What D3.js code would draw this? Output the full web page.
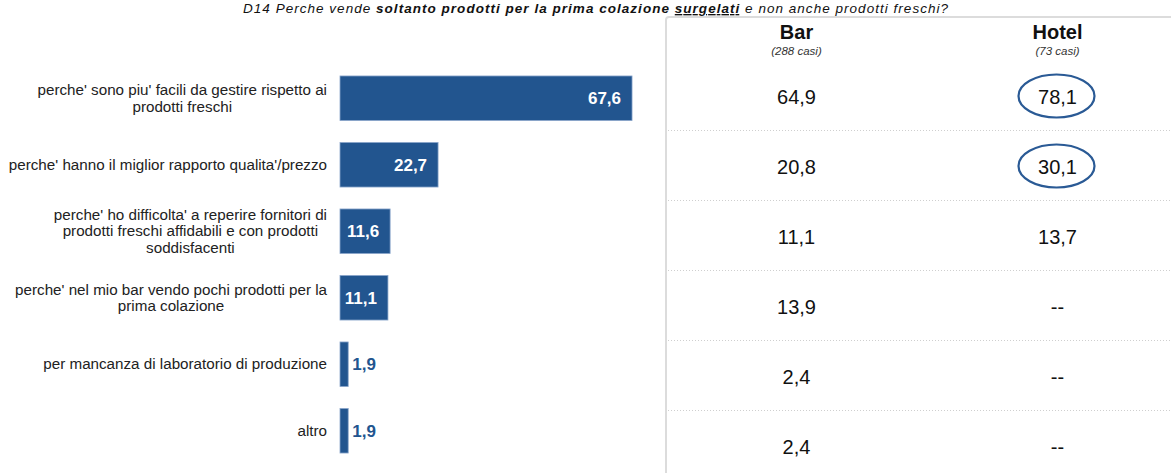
<!DOCTYPE html>
<html>
<head>
<meta charset="utf-8">
<script src="https://cdn.jsdelivr.net/npm/d3@7"></script>
<style>
  html, body { margin: 0; padding: 0; background: #fff; }
  svg { display: block; font-family: "Liberation Sans", Arial, sans-serif; }
</style>
</head>
<body>
<svg id="chart"></svg>
<script>
const categories = [
  "sono piu facili",
  "rapporto qualita prezzo",
  "difficolta fornitori",
  "pochi prodotti",
  "mancanza laboratorio",
  "altro",
];
const categoryLines = [
  ["perche' sono piu' facili da gestire rispetto ai", "prodotti freschi"],
  ["perche' hanno il miglior rapporto qualita'/prezzo"],
  ["perche' ho difficolta' a reperire fornitori di", "prodotti freschi affidabili e con prodotti", "soddisfacenti"],
  ["perche' nel mio bar vendo pochi prodotti per la", "prima colazione"],
  ["per mancanza di laboratorio di produzione"],
  ["altro"],
];
const totalValues = [67.6, 22.7, 11.6, 11.1, 1.9, 1.9];
const barValues = [64.9, 20.8, 11.1, 13.9, 2.4, 2.4];
const hotelValues = [78.1, 30.1, 13.7, null, null, null];
const hotelCircled = [true, true, false, false, false, false];
const columns = ["Bar", "Hotel"];
const columnCases = ["(288 casi)", "(73 casi)"];

const width = 1171;
const height = 473;
const blue = "#22558f";

const locale = d3.formatLocale({ decimal: ",", thousands: ".", grouping: [3], currency: ["", "€"] });
const fmt = locale.format(".1f");

const svg = d3.select("#chart").attr("width", width).attr("height", height);

// title (kept fully on the page, just above the table panel)
const title = svg.append("text")
  .attr("x", 243).attr("y", 13)
  .attr("font-size", 13.5).attr("font-style", "italic").attr("fill", "#111")
  .attr("textLength", 705).attr("lengthAdjust", "spacing");
title.append("tspan").text("D14 Perche vende ");
title.append("tspan").attr("font-weight", "bold").text("soltanto prodotti per la prima colazione ");
title.append("tspan").attr("font-weight", "bold").attr("text-decoration", "underline").text("surgelati");
title.append("tspan").text(" e non anche prodotti freschi?");

// bars
const x = d3.scaleLinear().domain([0, 100]).range([340, 772]);
const y = d3.scaleBand().domain(categories).range([65, 464]).paddingInner(0.33).paddingOuter(0.165);

const rows = categories.map((c, i) => ({
  cat: c, lines: categoryLines[i], total: totalValues[i],
  bar: barValues[i], hotel: hotelValues[i], circled: hotelCircled[i],
}));

svg.append("g").selectAll("rect")
  .data(rows)
  .join("rect")
  .attr("x", x(0))
  .attr("y", (d) => y(d.cat))
  .attr("width", (d) => x(d.total) - x(0))
  .attr("height", y.bandwidth())
  .attr("fill", blue)
  .attr("stroke", "#8aa6cb")
  .attr("stroke-width", 0.8);

svg.append("g").selectAll("text")
  .data(rows)
  .join("text")
  .attr("x", (d) => (x(d.total) - x(0) > 40 ? x(d.total) - 11 : x(d.total) + 4))
  .attr("y", (d) => y(d.cat) + y.bandwidth() / 2 + 6)
  .attr("text-anchor", (d) => (x(d.total) - x(0) > 40 ? "end" : "start"))
  .attr("font-size", 17)
  .attr("font-weight", "bold")
  .attr("fill", (d) => (x(d.total) - x(0) > 40 ? "#fff" : blue))
  .text((d) => fmt(d.total));

// category labels: block right-aligned, lines centred inside it
const lineH = 16.5;
const labels = svg.append("g").selectAll("text")
  .data(rows)
  .join("text")
  .attr("font-size", 15.2)
  .attr("fill", "#222")
  .attr("text-anchor", "middle");

labels.each(function (d) {
  const t = d3.select(this);
  const n = d.lines.length;
  const cy = y(d.cat) + y.bandwidth() / 2;
  d.lines.forEach((ln, k) => {
    t.append("tspan")
      .attr("y", cy + (k - (n - 1) / 2) * lineH + 5)
      .text(ln);
  });
  let maxW = 0;
  t.selectAll("tspan").each(function () {
    maxW = Math.max(maxW, this.getComputedTextLength());
  });
  t.selectAll("tspan").attr("x", 327 - maxW / 2);
});

// table panel
const panel = svg.append("g");
panel.append("path")
  .attr("d", `M666,${height} L666,20 Q666,17 669,17 L${width},17`)
  .attr("fill", "none")
  .attr("stroke", "#dcdcdc")
  .attr("stroke-width", 2);

const colX = d3.scaleBand().domain(columns).range([666, 1188]);
const rowY = d3.scaleBand().domain(categories).range([60, 480]);

panel.selectAll(".head")
  .data(columns)
  .join("text")
  .attr("x", (c) => colX(c) + colX.bandwidth() / 2)
  .attr("y", 39)
  .attr("text-anchor", "middle")
  .attr("font-size", 20)
  .attr("font-weight", "bold")
  .attr("fill", "#111")
  .text((c) => c);

panel.selectAll(".cases")
  .data(columns)
  .join("text")
  .attr("x", (c) => colX(c) + colX.bandwidth() / 2)
  .attr("y", 55)
  .attr("text-anchor", "middle")
  .attr("font-size", 11.5)
  .attr("font-style", "italic")
  .attr("fill", "#333")
  .text((c, i) => columnCases[i]);

panel.selectAll(".divider")
  .data(categories.slice(1))
  .join("line")
  .attr("x1", 668).attr("x2", width)
  .attr("y1", (c) => rowY(c) + 0.5)
  .attr("y2", (c) => rowY(c) + 0.5)
  .attr("stroke", "#cfcfcf")
  .attr("stroke-width", 1)
  .attr("stroke-dasharray", "1,2");

const barC = colX("Bar") + colX.bandwidth() / 2;
const hotelC = colX("Hotel") + colX.bandwidth() / 2;

panel.selectAll(".barval")
  .data(rows)
  .join("text")
  .attr("x", barC)
  .attr("y", (d) => rowY(d.cat) + 44)
  .attr("text-anchor", "middle")
  .attr("font-size", 20)
  .attr("fill", "#111")
  .text((d) => fmt(d.bar));

panel.selectAll(".hotelval")
  .data(rows)
  .join("text")
  .attr("x", hotelC)
  .attr("y", (d) => rowY(d.cat) + 44)
  .attr("text-anchor", "middle")
  .attr("font-size", 20)
  .attr("fill", "#111")
  .text((d) => (d.hotel == null ? "--" : fmt(d.hotel)));

panel.selectAll("ellipse")
  .data(rows.filter((d) => d.circled))
  .join("ellipse")
  .attr("cx", hotelC - 1)
  .attr("cy", (d) => rowY(d.cat) + 36)
  .attr("rx", 38)
  .attr("ry", 21.5)
  .attr("fill", "none")
  .attr("stroke", "#2a5a95")
  .attr("stroke-width", 2.2);
</script>
</body>
</html>
